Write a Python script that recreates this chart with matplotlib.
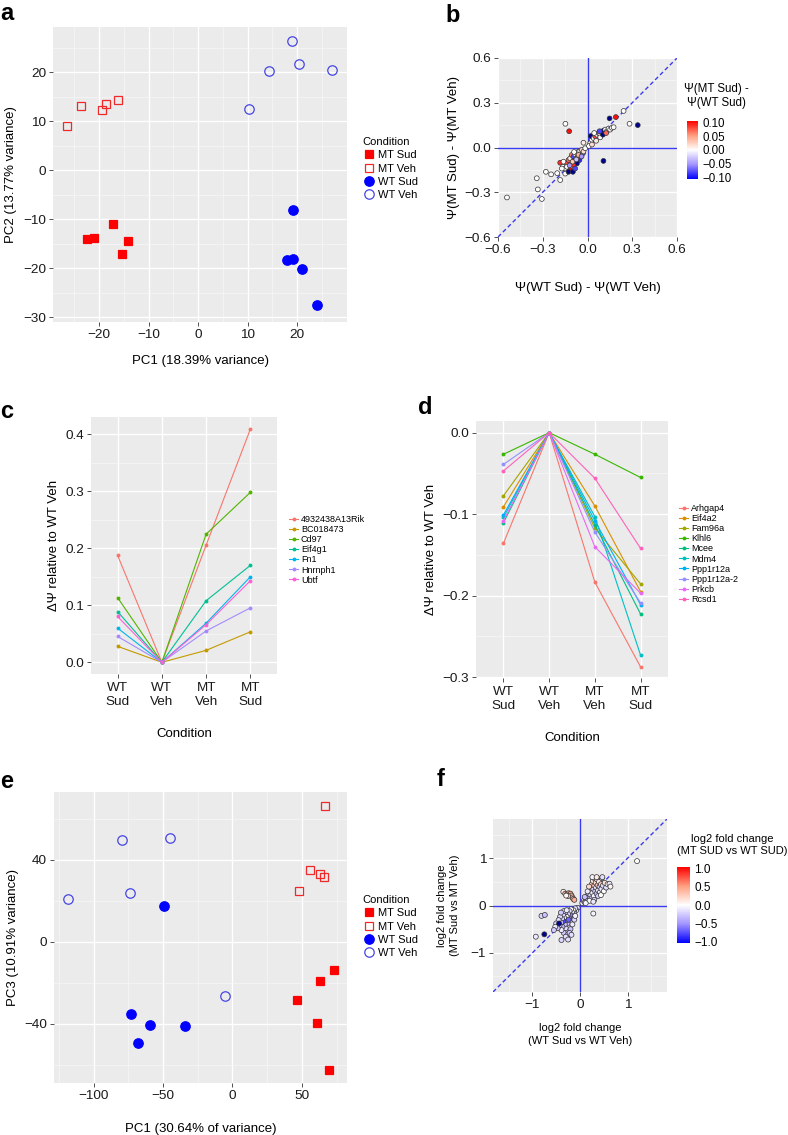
import numpy as np
import matplotlib.pyplot as plt
from matplotlib.colors import LinearSegmentedColormap, Normalize
from matplotlib.lines import Line2D

plt.rcParams['font.family'] = ['Liberation Sans', 'DejaVu Sans']
plt.rcParams['axes.unicode_minus'] = True

W, H = 788, 1135
fig = plt.figure(figsize=(W / 100, H / 100), dpi=100)


def box(x0, y0, x1, y1):
    # pixel box (top-left origin) -> figure fraction rect
    return [x0 / W, 1 - y1 / H, (x1 - x0) / W, (y1 - y0) / H]


## ---------------- data ----------------
# panel a: PC1 vs PC2
a_mtsud_x = [-22.5, -21.1, -17.1, -15.4, -14.2]
a_mtsud_y = [-14.0, -13.9, -11.1, -17.1, -14.5]
a_mtveh_x = [-26.5, -23.6, -19.3, -18.5, -16.2]
a_mtveh_y = [9.0, 13.0, 12.2, 13.5, 14.4]
a_wtsud_x = [19.1, 17.9, 19.1, 21.1, 24.0]
a_wtsud_y = [-8.2, -18.3, -18.1, -20.2, -27.6]
a_wtveh_x = [19.0, 14.4, 20.4, 27.0, 10.2]
a_wtveh_y = [26.4, 20.2, 21.7, 20.4, 12.4]

# panel e: PC1 vs PC3
e_mtsud_x = [73.0, 63.2, 46.2, 61.0, 69.2]
e_mtsud_y = [-13.6, -19.3, -28.2, -39.4, -62.8]
e_mtveh_x = [67.0, 55.5, 63.2, 66.0, 47.8]
e_mtveh_y = [66.4, 34.9, 33.3, 31.7, 24.7]
e_wtsud_x = [-49.5, -73.0, -59.6, -34.4, -68.0]
e_wtsud_y = [17.4, -35.2, -40.4, -41.1, -49.5]
e_wtveh_x = [-118.5, -79.3, -45.0, -74.0, -5.3]
e_wtveh_y = [20.8, 49.5, 50.5, 24.0, -26.3]

conditions = ['MT Sud', 'MT Veh', 'WT Sud', 'WT Veh']

# panels c, d: delta psi per condition
cond_labels = ['WT\nSud', 'WT\nVeh', 'MT\nVeh', 'MT\nSud']
c_genes = ['4932438A13Rik', 'BC018473', 'Cd97', 'Eif4g1', 'Fn1', 'Hnrnph1', 'Ubtf']
c_dpsi = [
    [0.1875, 0.0, 0.2055, 0.409],
    [0.028, 0.0, 0.021, 0.0535],
    [0.1135, 0.0, 0.2247, 0.298],
    [0.089, 0.0, 0.108, 0.170],
    [0.060, 0.0, 0.0687, 0.150],
    [0.0454, 0.0, 0.055, 0.0955],
    [0.0803, 0.0, 0.066, 0.143],
]
c_colors = ['#F8766D', '#C49A00', '#53B400', '#00C094', '#00B6EB', '#A58AFF', '#FB61D7']

d_genes = ['Arhgap4', 'Eif4a2', 'Fam96a', 'Klhl6', 'Mcee', 'Mdm4',
           'Ppp1r12a', 'Ppp1r12a-2', 'Prkcb', 'Rcsd1']
d_dpsi = [
    [-0.1357, 0.0, -0.1834, -0.2874],
    [-0.091, 0.0, -0.090, -0.195],
    [-0.0775, 0.0, -0.117, -0.1855],
    [-0.0265, 0.0, -0.0265, -0.055],
    [-0.1105, 0.0, -0.113, -0.2225],
    [-0.104, 0.0, -0.103, -0.273],
    [-0.101, 0.0, -0.108, -0.211],
    [-0.039, 0.0, -0.122, -0.209],
    [-0.108, 0.0, -0.140, -0.197],
    [-0.047, 0.0, -0.056, -0.142],
]
d_colors = ['#F8766D', '#D89000', '#A3A500', '#39B600', '#00BF7D', '#00BFC4',
            '#00B0F6', '#9590FF', '#E76BF3', '#FF62BC']

# panel b: (WT Sud - WT Veh, MT Sud - MT Veh, MT Sud - WT Sud)
b_points = [
    (-0.54, -0.335, 0.00), (-0.34, -0.206, 0.00), (-0.333, -0.281, 0.00),
    (-0.306, -0.345, 0.00), (-0.279, -0.163, 0.00), (-0.244, -0.180, 0.00),
    (-0.203, -0.172, 0.00), (-0.183, -0.218, 0.00), (-0.148, 0.159, 0.00),
    (-0.123, 0.109, 0.10), (-0.027, 0.032, 0.01), (0.107, -0.090, -0.15),
    (0.148, 0.195, -0.15), (0.190, 0.204, 0.10), (0.242, 0.245, 0.00),
    (0.282, 0.159, 0.00), (0.337, 0.150, -0.15),
    (-0.183, -0.102, 0.09), (-0.165, -0.129, 0.00), (-0.149, -0.141, 0.00),
    (-0.138, -0.107, 0.08), (-0.127, -0.084, 0.07), (-0.116, -0.073, 0.01),
    (-0.105, -0.050, 0.06), (-0.094, -0.061, -0.08), (-0.083, -0.045, 0.00),
    (-0.071, -0.039, 0.05), (-0.060, -0.027, 0.00), (-0.049, -0.023, 0.00),
    (-0.038, -0.016, 0.02), (-0.031, -0.039, -0.07), (-0.054, -0.084, -0.09),
    (-0.071, -0.107, -0.15), (-0.094, -0.118, 0.09), (-0.116, -0.152, 0.10),
    (-0.138, -0.129, 0.00), (-0.161, -0.095, 0.00), (-0.172, -0.141, 0.00),
    (-0.149, -0.175, 0.00), (-0.127, -0.163, -0.15), (-0.098, -0.163, -0.15),
    (-0.083, -0.141, -0.08), (-0.045, -0.061, 0.00), (-0.027, -0.027, 0.02),
    (-0.015, -0.005, 0.00), (-0.067, -0.068, 0.07), (-0.090, -0.090, -0.15),
    (-0.100, -0.095, 0.03), (-0.075, -0.080, -0.03), (-0.120, -0.120, -0.05),
    (-0.060, -0.050, 0.04), (-0.090, -0.030, 0.00), (-0.040, -0.060, -0.05),
    (0.018, 0.029, 0.00), (0.029, 0.052, 0.00), (0.022, 0.077, -0.15),
    (0.041, 0.063, 0.00), (0.052, 0.075, 0.08), (0.063, 0.086, 0.00),
    (0.074, 0.097, 0.07), (0.085, 0.091, 0.00), (0.096, 0.104, 0.06),
    (0.107, 0.113, -0.15), (0.119, 0.120, 0.00), (0.130, 0.109, 0.00),
    (0.141, 0.127, 0.00), (0.152, 0.120, 0.00), (0.163, 0.132, 0.00),
    (0.175, 0.136, 0.00), (0.085, 0.068, 0.00), (0.058, 0.045, 0.01),
    (0.103, 0.086, -0.15), (0.125, 0.097, 0.07), (0.081, 0.109, -0.08),
    (0.045, 0.097, 0.00), (0.010, 0.010, 0.00), (0.030, 0.020, 0.02),
]

# panel f: log2 fold changes
f_points = [
    (-0.35, 0.29, 0.10), (-0.31, 0.25, 0.35), (-0.27, 0.24, 0.40), (-0.24, 0.26, 0.45),
    (-0.22, 0.23, 0.30), (-0.20, 0.25, 0.50), (-0.18, 0.21, 0.35), (-0.16, 0.17, 0.40),
    (-0.14, 0.14, 0.20), (-0.25, 0.20, 0.30), (-0.29, 0.21, 0.05), (-0.12, 0.12, 0.45),
    (0.05, 0.05, -0.10), (0.08, 0.10, 0.05), (0.10, 0.07, -0.20), (0.12, 0.15, 0.10),
    (0.14, 0.11, -0.15), (0.15, 0.20, 0.00), (0.17, 0.14, -0.25), (0.18, 0.25, 0.20),
    (0.20, 0.18, -0.05), (0.21, 0.31, 0.30), (0.22, 0.22, -0.20), (0.23, 0.38, 0.10),
    (0.24, 0.15, -0.30), (0.25, 0.45, 0.25), (0.26, 0.27, -0.10), (0.27, 0.52, 0.15),
    (0.28, 0.35, -0.20), (0.29, 0.20, -0.05), (0.30, 0.42, 0.35), (0.31, 0.57, 0.05),
    (0.32, 0.30, -0.25), (0.33, 0.48, 0.20), (0.34, 0.38, -0.10), (0.35, 0.25, -0.30),
    (0.36, 0.55, 0.00), (0.37, 0.43, 0.30), (0.38, 0.32, -0.15), (0.40, 0.50, 0.10),
    (0.41, 0.40, -0.20), (0.42, 0.28, -0.05), (0.44, 0.45, 0.25), (0.45, 0.35, -0.10),
    (0.46, 0.58, 0.05), (0.48, 0.42, -0.20), (0.50, 0.30, 0.00), (0.52, 0.48, 0.15),
    (0.55, 0.38, -0.15), (0.58, 0.45, 0.00), (0.62, 0.46, -0.10), (0.64, 0.40, 0.05),
    (0.30, 0.12, -0.20), (0.20, 0.10, 0.00), (0.16, 0.30, -0.10), (0.19, 0.40, 0.20),
    (0.26, 0.60, -0.05), (0.35, 0.60, 0.10), (0.47, 0.60, -0.15), (0.28, 0.08, -0.10),
    (0.38, 0.20, -0.25), (0.44, 0.22, 0.00), (0.12, 0.05, -0.05), (0.10, 0.18, -0.30),
    (-0.05, -0.05, -0.10), (-0.08, -0.10, 0.00), (-0.10, -0.06, -0.20), (-0.12, -0.15, -0.30),
    (-0.14, -0.10, 0.05), (-0.15, -0.22, -0.25), (-0.17, -0.14, -0.10), (-0.18, -0.28, -0.35),
    (-0.19, -0.08, 0.00), (-0.20, -0.20, -0.60), (-0.21, -0.35, -0.20), (-0.22, -0.12, -0.15),
    (-0.23, -0.27, -0.40), (-0.24, -0.45, -0.10), (-0.25, -0.18, -0.25), (-0.26, -0.38, -0.30),
    (-0.27, -0.55, -0.20), (-0.28, -0.24, 0.05), (-0.29, -0.32, -0.45), (-0.30, -0.48, -0.15),
    (-0.31, -0.14, -0.20), (-0.32, -0.40, -0.30), (-0.33, -0.26, -0.10), (-0.34, -0.58, -0.25),
    (-0.35, -0.33, -0.80), (-0.36, -0.20, -0.15), (-0.37, -0.45, -0.35), (-0.38, -0.28, -0.20),
    (-0.39, -0.52, -0.10), (-0.40, -0.36, -0.30), (-0.42, -0.24, -0.20), (-0.43, -0.42, -0.25),
    (-0.45, -0.31, -0.15), (-0.47, -0.48, -0.30), (-0.50, -0.38, -0.20), (-0.52, -0.45, -0.10),
    (-0.55, -0.52, -0.25), (-0.26, -0.62, -0.20), (-0.20, -0.50, -0.30), (-0.16, -0.40, -0.10),
    (-0.12, -0.30, -0.20), (-0.30, -0.66, -0.15), (-0.22, -0.58, -0.25), (-0.10, -0.22, -0.05),
    (-0.34, -0.12, -0.20), (-0.28, -0.10, -0.10), (-0.40, -0.15, -0.25), (-0.18, -0.62, -0.15),
    (-0.44, -0.38, -1.20), (-0.24, -0.30, -0.70),
    (-0.93, -0.66, -0.10), (-0.75, -0.61, -1.20), (-0.81, -0.22, -0.20), (-0.74, -0.20, -0.30),
    (0.28, -0.17, -0.05), (1.20, 0.94, 0.00), (-0.39, -0.73, -0.20), (-0.25, -0.72, -0.15),
]

## ---------------- helpers ----------------
TICK = 9.7
LAB = 9.5

cmap = LinearSegmentedColormap.from_list(
    'bwr_gg', [(0, '#0000FF'), (0.25, '#A293FF'), (0.5, '#FFFFFF'),
               (0.75, '#FF9E80'), (1, '#FF0000')])
cmap.set_under('#00008B')
cmap.set_over('#B00000')


def fmt(v, nd):
    s = f'{v:.{nd}f}'
    return s.replace('-', '\u2212')


def gg(ax, xmaj, ymaj, xmin=(), ymin=(), xl=None, yl=None, nd_x=0, nd_y=0):
    ax.set_facecolor('#EBEBEB')
    for s in ax.spines.values():
        s.set_visible(False)
    ax.set_xticks(xmaj)
    ax.set_yticks(ymaj)
    ax.set_xticks(list(xmin), minor=True)
    ax.set_yticks(list(ymin), minor=True)
    if xl is None:
        ax.set_xticklabels([fmt(v, nd_x) for v in xmaj])
    else:
        ax.set_xticklabels(xl)
    if yl is None:
        ax.set_yticklabels([fmt(v, nd_y) for v in ymaj])
    else:
        ax.set_yticklabels(yl)
    ax.grid(which='major', color='white', lw=1.0)
    ax.grid(which='minor', color='#F7F7F7', lw=0.5)
    ax.set_axisbelow(True)
    ax.tick_params(which='major', length=3, width=0.6, color='#333333',
                   labelsize=TICK, labelcolor='#1a1a1a', pad=2)
    ax.tick_params(which='minor', length=0)


def letter(x, y, s):
    fig.text(x / W, 1 - y / H, s, fontsize=17, fontweight='bold', ha='left', va='center')


def pca_panel(ax, xs, ys):
    styles = [dict(marker='s', ms=6.0, mfc='#FF0000', mec='#FF0000'),
              dict(marker='s', ms=6.0, mfc='none', mec='#F02828'),
              dict(marker='o', ms=6.8, mfc='#0000FF', mec='#0000FF'),
              dict(marker='o', ms=6.8, mfc='none', mec='#4646E6')]
    handles = []
    for (x, y), st in zip(zip(xs, ys), styles):
        ax.plot(x, y, ls='none', mew=0.9, **st)
        handles.append(Line2D([], [], ls='none', mew=0.9, **st))
    return handles


## ---------------- panel a ----------------
ax = fig.add_axes(box(53, 27, 347, 322))
h = pca_panel(ax, [a_mtsud_x, a_mtveh_x, a_wtsud_x, a_wtveh_x],
              [a_mtsud_y, a_mtveh_y, a_wtsud_y, a_wtveh_y])
ax.set_xlim(-29.3, 30.1)
ax.set_ylim(-31, 29.2)
gg(ax, [-20, -10, 0, 10, 20], [-30, -20, -10, 0, 10, 20],
   [-25, -15, -5, 5, 15, 25], [-25, -15, -5, 5, 15, 25])
ax.set_xlabel('PC1 (18.39% variance)', fontsize=LAB, labelpad=10)
ax.set_ylabel('PC2 (13.77% variance)', fontsize=LAB, labelpad=4)
fig.legend(h, conditions, title='Condition', loc='upper left',
           bbox_to_anchor=(352 / W, 1 - 127 / H), frameon=False, fontsize=8,
           title_fontsize=8, handletextpad=0.2, labelspacing=0.3,
           handlelength=1.2, alignment='left')
letter(0, 14, 'a')

## ---------------- panel b ----------------
bx, by, bc = (np.array(v) for v in zip(*b_points))
ax = fig.add_axes(box(498, 58, 677, 237))
ax.axhline(0, color='#3A3AF0', lw=1.0, zorder=1)
ax.axvline(0, color='#3A3AF0', lw=1.0, zorder=1)
ax.axline((0, 0), slope=1, color='#3A3AF0', lw=1.0, ls=(0, (3, 2)), zorder=1)
sc = ax.scatter(bx, by, c=bc, cmap=cmap, norm=Normalize(-0.105, 0.105), s=12,
                edgecolors='#333333', linewidths=0.5, zorder=3)
ax.set_xlim(-0.6, 0.6)
ax.set_ylim(-0.6, 0.6)
tb = [-0.6, -0.3, 0.0, 0.3, 0.6]
gg(ax, tb, tb, [-0.45, -0.15, 0.15, 0.45], [-0.45, -0.15, 0.15, 0.45], nd_x=1, nd_y=1)
ax.set_xlabel('\u03a8(WT Sud) - \u03a8(WT Veh)', fontsize=LAB, labelpad=19)
ax.set_ylabel('\u03a8(MT Sud) - \u03a8(MT Veh)', fontsize=LAB, labelpad=3)
cax = fig.add_axes(box(687, 121, 698, 179))
cb = fig.colorbar(sc, cax=cax, ticks=[-0.1, -0.05, 0, 0.05, 0.1])
cb.outline.set_visible(False)
cb.ax.set_yticklabels([fmt(v, 2) for v in [-0.1, -0.05, 0, 0.05, 0.1]])
cb.ax.tick_params(labelsize=8.3, length=2, color='white', pad=1)
fig.text(716 / W, 1 - 96 / H, '\u03a8(MT Sud) -\n\u03a8(WT Sud)', fontsize=8.3,
         ha='center', va='center', linespacing=1.25)
letter(445, 15, 'b')


## ---------------- panels c, d ----------------
def line_panel(rect, dpsi, genes, colors, ylim, ymaj, ymin, leg_xy):
    ax = fig.add_axes(rect)
    pos = np.arange(1, len(cond_labels) + 1)
    hs = []
    for vals, g, col in zip(dpsi, genes, colors):
        hl, = ax.plot(pos, vals, color=col, lw=0.8, marker='o', ms=1.8, label=g)
        hs.append(hl)
    ax.set_xlim(0.4, 4.6)
    ax.set_ylim(*ylim)
    gg(ax, pos, ymaj, (), ymin, xl=cond_labels, nd_y=1)
    ax.tick_params(axis='x', pad=3)
    ax.set_xlabel('Condition', fontsize=LAB, labelpad=14)
    ax.set_ylabel('\u0394\u03a8 relative to WT Veh', fontsize=LAB, labelpad=4)
    fig.legend(hs, genes, loc='upper left', bbox_to_anchor=leg_xy, frameon=False,
               fontsize=6.5, handlelength=1.0, handletextpad=0.3, labelspacing=0.12)
    return ax


line_panel(box(91, 417, 277, 674), c_dpsi, c_genes, c_colors, (-0.0205, 0.43),
           [0.0, 0.1, 0.2, 0.3, 0.4], [0.05, 0.15, 0.25, 0.35],
           (281 / W, 1 - 507 / H))
letter(0, 412, 'c')

line_panel(box(476, 421, 668, 678), d_dpsi, d_genes, d_colors, (-0.301, 0.0143),
           [-0.3, -0.2, -0.1, 0.0], [-0.25, -0.15, -0.05],
           (671 / W, 1 - 496 / H))
letter(418, 408, 'd')

## ---------------- panel e ----------------
ax = fig.add_axes(box(54, 792, 347, 1083))
h = pca_panel(ax, [e_mtsud_x, e_mtveh_x, e_wtsud_x, e_wtveh_x],
              [e_mtsud_y, e_mtveh_y, e_wtsud_y, e_wtveh_y])
ax.set_xlim(-128.6, 82.5)
ax.set_ylim(-68.9, 73.1)
gg(ax, [-100, -50, 0, 50], [-40, 0, 40], [-125, -75, -25, 25, 75], [-60, -20, 20, 60])
ax.set_xlabel('PC1 (30.64% of variance)', fontsize=LAB, labelpad=15)
ax.set_ylabel('PC3 (10.91% variance)', fontsize=LAB, labelpad=4)
fig.legend(h, conditions, title='Condition', loc='upper left',
           bbox_to_anchor=(352 / W, 1 - 885 / H), frameon=False, fontsize=8,
           title_fontsize=8, handletextpad=0.2, labelspacing=0.3,
           handlelength=1.2, alignment='left')
letter(0, 781, 'e')

## ---------------- panel f ----------------
fx, fy, fc = (np.array(v) for v in zip(*f_points))
ax = fig.add_axes(box(493, 819, 667, 992))
ax.axhline(0, color='#3A3AF0', lw=1.0, zorder=1)
ax.axvline(0, color='#3A3AF0', lw=1.0, zorder=1)
ax.axline((0, 0), slope=1, color='#3A3AF0', lw=1.0, ls=(0, (3, 2)), zorder=1)
sc = ax.scatter(fx, fy, c=fc, cmap=cmap, norm=Normalize(-1.05, 1.05), s=13,
                edgecolors='#333333', linewidths=0.5, zorder=3)
ax.set_xlim(-1.83, 1.83)
ax.set_ylim(-1.83, 1.83)
gg(ax, [-1, 0, 1], [-1, 0, 1], [-1.5, -0.5, 0.5, 1.5], [-1.5, -0.5, 0.5, 1.5])
ax.set_xlabel('log2 fold change\n(WT Sud vs WT Veh)', fontsize=8, labelpad=9,
              linespacing=1.3)
ax.set_ylabel('log2 fold change\n(MT Sud vs MT Veh)', fontsize=8, labelpad=8,
              linespacing=1.3)
cax = fig.add_axes(box(677, 867, 690, 943))
cb = fig.colorbar(sc, cax=cax, ticks=[-1, -0.5, 0, 0.5, 1])
cb.outline.set_visible(False)
cb.ax.set_yticklabels([fmt(v, 1) for v in [-1, -0.5, 0, 0.5, 1]])
cb.ax.tick_params(labelsize=8.5, length=2, color='white', pad=1)
fig.text(732 / W, 1 - 845 / H, 'log2 fold change\n(MT SUD vs WT SUD)', fontsize=8,
         ha='center', va='center', linespacing=1.25)
letter(437, 780, 'f')

fig.savefig('out.png', dpi=100)
